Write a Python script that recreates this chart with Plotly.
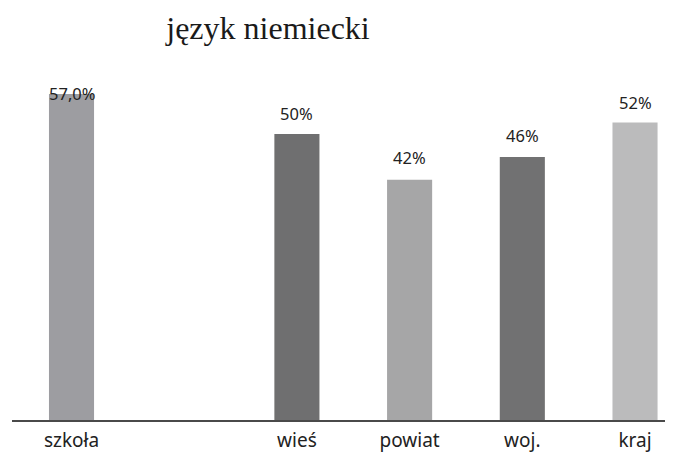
import plotly.graph_objects as go

categories = ["szkoła", " ", "wieś", "powiat", "woj.", "kraj"]
values = [57.0, None, 50, 42, 46, 52]
labels = ["57,0%", "", "50%", "42%", "46%", "52%"]
colors = ["#9d9da1", "#ffffff", "#6f6f70", "#a6a6a7", "#717172", "#bbbbbc"]
label_shift = [1, 0, 21, 22, 21, 20]

fig = go.Figure()
fig.add_trace(go.Bar(
    x=categories, y=values, marker=dict(color=colors, line=dict(width=0)),
    width=0.4, hoverinfo="skip",
))

for c, v, t, s in zip(categories, values, labels, label_shift):
    if v is None:
        continue
    fig.add_annotation(x=c, y=v, text=t, showarrow=False, yshift=s,
                       font=dict(family="Noto Sans", size=16.5, color="#222222"))

fig.update_layout(
    width=673, height=460,
    margin=dict(l=4, r=8, t=62, b=48),
    paper_bgcolor="white", plot_bgcolor="white",
    showlegend=False,
    title=dict(text="język niemiecki", x=260/673, xanchor="center", y=0.956, yanchor="middle",
               font=dict(family="Liberation Serif", size=32, color="#1a1a1a")),
    xaxis=dict(type="category", range=[-0.528, 5.337], showgrid=False,
               showline=True, linecolor="#4a4a4a", linewidth=1.5,
               ticks="outside", ticklen=2, tickcolor="rgba(0,0,0,0)",
               tickfont=dict(family="Noto Sans", size=19, color="#222222")),
    yaxis=dict(range=[0, 61.2], visible=False, showgrid=False, zeroline=False),
)

fig.write_html("out.html")
